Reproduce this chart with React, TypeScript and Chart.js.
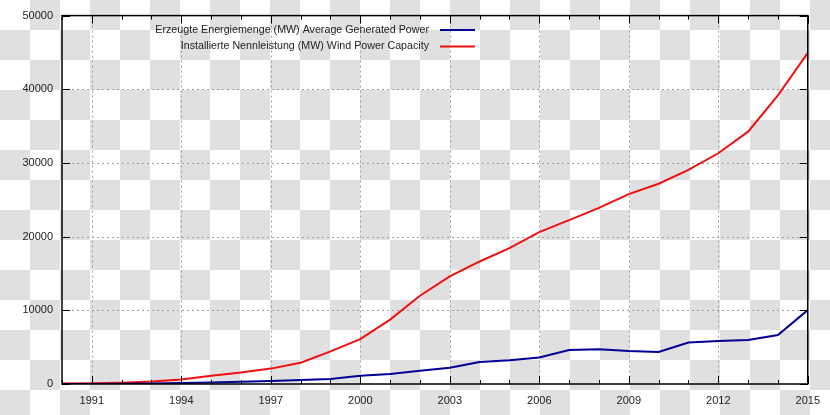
import React, { useEffect, useRef } from "react";
import { Chart, registerables } from "chart.js";

Chart.register(...registerables);

const years = [1990, 1991, 1992, 1993, 1994, 1995, 1996, 1997, 1998, 1999, 2000, 2001, 2002, 2003, 2004, 2005, 2006, 2007, 2008, 2009, 2010, 2011, 2012, 2013, 2014, 2015];
const generatedPower = [10, 15, 30, 70, 120, 200, 300, 400, 540, 680, 1130, 1350, 1800, 2210, 2980, 3210, 3610, 4600, 4700, 4470, 4340, 5640, 5820, 5960, 6640, 10030];
const installedCapacity = [55, 106, 174, 326, 618, 1121, 1549, 2089, 2877, 4435, 6097, 8738, 11976, 14609, 16629, 18428, 20622, 22247, 23903, 25777, 27180, 29071, 31315, 34250, 39165, 44946];
const labelGen = "Erzeugte Energiemenge (MW) Average Generated Power";
const labelCap = "Installierte Nennleistung (MW) Wind Power Capacity";
const yTicks = [0, 10000, 20000, 30000, 40000, 50000];
const xLabelYears = [1991, 1994, 1997, 2000, 2003, 2006, 2009, 2012, 2015];

const BLUE = "#000096";
const RED = "#f01010";
const FONT = "'Liberation Sans', Arial, sans-serif";

const framePlugin = {
  id: "frame",
  beforeDatasetsDraw(chart: any) {
    const { ctx, chartArea: a, scales } = chart;
    const x = scales.x, y = scales.y;
    ctx.save();
    ctx.strokeStyle = "#a0a0a0";
    ctx.lineWidth = 1;
    ctx.setLineDash([2, 3]);
    for (const v of yTicks) {
      if (v === 0 || v === 50000) continue;
      const py = Math.round(y.getPixelForValue(v)) + 0.5;
      ctx.beginPath();
      ctx.moveTo(a.left, py);
      ctx.lineTo(a.right, py);
      ctx.stroke();
    }
    for (const v of xLabelYears) {
      if (v === 2015) continue;
      const px = Math.round(x.getPixelForValue(v)) + 0.5;
      ctx.beginPath();
      ctx.moveTo(px, a.top);
      ctx.lineTo(px, a.bottom);
      ctx.stroke();
    }
    ctx.restore();
  },
  afterDraw(chart: any) {
    const { ctx, chartArea: a, scales } = chart;
    const x = scales.x, y = scales.y;
    ctx.save();
    ctx.strokeStyle = "#000";
    ctx.lineWidth = 1.5;
    ctx.setLineDash([]);
    ctx.strokeRect(a.left, a.top, a.right - a.left, a.bottom - a.top);
    ctx.lineWidth = 1;
    for (const v of years) {
      const px = Math.round(x.getPixelForValue(v)) + 0.5;
      const len = xLabelYears.includes(v) ? 8 : 4;
      ctx.beginPath();
      ctx.moveTo(px, a.bottom);
      ctx.lineTo(px, a.bottom - len);
      ctx.moveTo(px, a.top);
      ctx.lineTo(px, a.top + len);
      ctx.stroke();
    }
    for (const v of yTicks) {
      const py = Math.round(y.getPixelForValue(v)) + 0.5;
      ctx.beginPath();
      ctx.moveTo(a.left, py);
      ctx.lineTo(a.left + 8, py);
      ctx.moveTo(a.right, py);
      ctx.lineTo(a.right - 8, py);
      ctx.stroke();
    }
    // legend
    ctx.font = `10.7px ${FONT}`;
    ctx.fillStyle = "#222";
    ctx.textAlign = "right";
    ctx.textBaseline = "middle";
    const rows = [
      { t: labelGen, c: BLUE, yy: 30 },
      { t: labelCap, c: RED, yy: 46.5 },
    ];
    for (const r of rows) {
      ctx.fillText(r.t, 429, r.yy);
      ctx.strokeStyle = r.c;
      ctx.lineWidth = 2;
      ctx.beginPath();
      ctx.moveTo(440, r.yy);
      ctx.lineTo(475, r.yy);
      ctx.stroke();
    }
    ctx.restore();
  },
};

export default function App() {
  const ref = useRef<HTMLCanvasElement>(null);
  useEffect(() => {
    const chart = new Chart(ref.current!, {
      type: "line",
      data: {
        datasets: [
          {
            label: labelGen,
            data: years.map((yr, i) => ({ x: yr, y: generatedPower[i] })),
            borderColor: BLUE,
            borderWidth: 2,
            pointRadius: 0,
            tension: 0,
          },
          {
            label: labelCap,
            data: years.map((yr, i) => ({ x: yr, y: installedCapacity[i] })),
            borderColor: RED,
            borderWidth: 2,
            pointRadius: 0,
            tension: 0,
          },
        ],
      },
      options: {
        animation: false,
        responsive: false,
        layout: { padding: { top: 15, right: 22, left: 0, bottom: 0 } },
        plugins: { legend: { display: false }, tooltip: { enabled: false } },
        scales: {
          x: {
            type: "linear",
            min: 1990,
            max: 2015,
            afterFit: (s: any) => { s.height = 31; },
            afterBuildTicks: (s: any) => { s.ticks = xLabelYears.map((v) => ({ value: v })); },
            grid: { display: false, drawTicks: false },
            border: { display: false },
            ticks: {
              padding: 10,
              autoSkip: false,
              maxRotation: 0,
              color: "#222",
              font: { family: FONT, size: 11 },
              callback: (v: any) => String(v),
            },
          },
          y: {
            min: 0,
            max: 50000,
            afterFit: (s: any) => { s.width = 62; },
            afterBuildTicks: (s: any) => { s.ticks = yTicks.map((v) => ({ value: v })); },
            grid: { display: false, drawTicks: false },
            border: { display: false },
            ticks: {
              padding: 9,
              color: "#222",
              font: { family: FONT, size: 11 },
              callback: (v: any) => String(v),
            },
          },
        },
      },
      plugins: [framePlugin],
    });
    return () => chart.destroy();
  }, []);
  return (
    <div
      style={{
        position: "fixed",
        left: 0,
        top: 0,
        width: 830,
        height: 415,
        backgroundColor: "#ffffff",
        backgroundImage:
          "conic-gradient(#e0e0e0 25%, transparent 0 50%, #e0e0e0 0 75%, transparent 0)",
        backgroundSize: "60px 60px",
      }}
    >
      <canvas ref={ref} width={830} height={415} style={{ display: "block" }} />
    </div>
  );
}
